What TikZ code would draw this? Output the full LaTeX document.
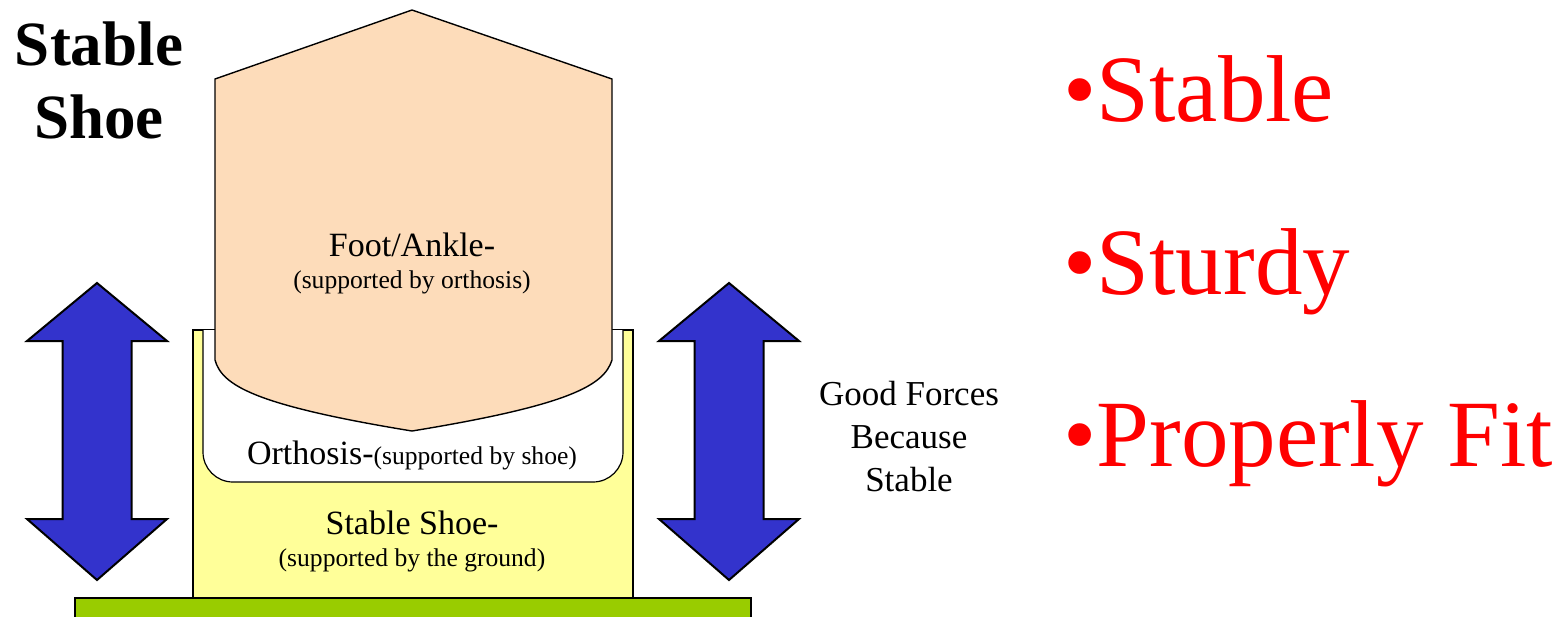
\documentclass[tikz,border=0pt]{standalone}
\usepackage{fontspec}
\setmainfont{Liberation Serif}
\usepackage{tikz}

\definecolor{footpeach}{RGB}{253,220,186}
\definecolor{shoeyellow}{RGB}{255,255,153}
\definecolor{groundgreen}{RGB}{153,204,0}
\definecolor{forceblue}{RGB}{51,51,204}

\begin{document}
\begin{tikzpicture}[x=0.5pt,y=-0.5pt,  % one unit = one pixel, y downwards
    label/.style={
      inner sep=0pt,
      align=center,
      font=\fontsize{17}{16}\selectfont
    },
    point/.style={
      inner sep=0pt,
      anchor=base west,
      text=red,
      font=\fontsize{47.5}{50}\selectfont
    },
    force/.style={
      draw=black,
      line width=1pt,
      fill=forceblue,
      line join=miter
    }
  ]
    \useasboundingbox (0,0) rectangle (1566,616);

    % Ground
    \filldraw[fill=groundgreen,line width=0.8pt] (75,598) rectangle (751,630);

    % Shoe and orthosis
    \filldraw[fill=shoeyellow,line width=0.6pt] (193,330) rectangle (633,598);
    \filldraw[fill=white,line width=0.6pt,rounded corners=15pt]
      (203,330) -- (203,482) -- (623,482) -- (623,330);

    % Foot / ankle
    \filldraw[fill=footpeach,line width=0.7pt]
      (215,79) -- (412,10) -- (612,79) -- (612,360)
      .. controls (604,385) and (571,405) .. (412,431)
      .. controls (253,405) and (222,385) .. (215,360) -- cycle;

    % Force arrows
    \foreach \c in {97,729} {
      \draw[force] (\c,283) -- ++(70,58) -- ++(-35.5,0) -- ++(0,178)
        -- ++(35.5,0) -- (\c,580) -- ++(-70,-61) -- ++(35.5,0)
        -- ++(0,-178) -- ++(-35.5,0) -- cycle;
    }

    % Labels
    \node[inner sep=0pt,align=center,
      font=\fontsize{31.5}{36.5}\selectfont\bfseries] (title) at (99,80)
      {Stable\\Shoe};
    \node[label] (foot) at (412,263)
      {Foot/Ankle-\\{\fontsize{12.8}{16}\selectfont(supported by orthosis)}};
    \node[label,anchor=base] (orth) at (412,464)
      {Orthosis-{\fontsize{12.8}{16}\selectfont(supported by shoe)}};
    \node[label] (shoe) at (412,541)
      {Stable Shoe-\\{\fontsize{12.8}{16}\selectfont(supported by the ground)}};
    \node[label,font=\fontsize{17.5}{21.5}\selectfont] (good) at (909,437)
      {Good Forces\\Because\\Stable};

    % Key points
    \node[point] (p1) at (1063,121) {•Stable};
    \node[point] (p2) at (1063,294) {•Sturdy};
    \node[point] (p3) at (1063,466) {•Properly Fit};

  \end{tikzpicture}
\end{document}
